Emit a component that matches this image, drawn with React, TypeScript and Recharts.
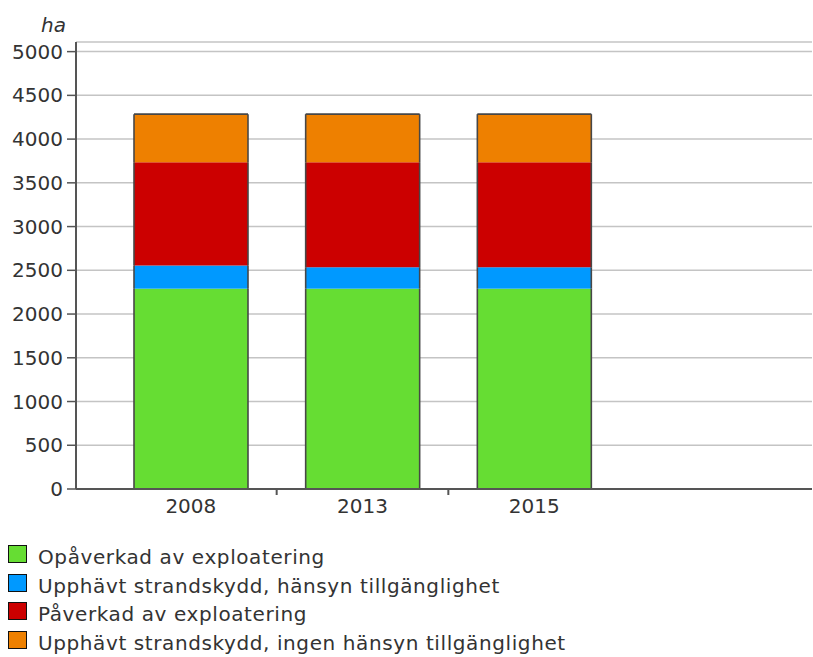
import { BarChart, Bar, XAxis, YAxis, CartesianGrid, Label } from 'recharts'

const years = ['2008', '2013', '2015']
const opaverkad = [2290, 2290, 2290]
const upphavtHansyn = [265, 245, 245]
const paverkad = [1180, 1200, 1200]
const upphavtIngen = [550, 550, 550]
const yTicks = [0, 500, 1000, 1500, 2000, 2500, 3000, 3500, 4000, 4500, 5000]

const series = [
  { key: 'opaverkad', name: 'Opåverkad av exploatering', color: '#66dd33' },
  { key: 'upphavtHansyn', name: 'Upphävt strandskydd, hänsyn tillgänglighet', color: '#0099ff' },
  { key: 'paverkad', name: 'Påverkad av exploatering', color: '#cc0000' },
  { key: 'upphavtIngen', name: 'Upphävt strandskydd, ingen hänsyn tillgänglighet', color: '#ee8000' },
]

const data = years.map((year, i) => ({
  year,
  opaverkad: opaverkad[i],
  upphavtHansyn: upphavtHansyn[i],
  paverkad: paverkad[i],
  upphavtIngen: upphavtIngen[i],
}))

const W = 813
const CHART_H = 530
const MARGIN = { top: 42, right: 1, left: 8, bottom: 11 }
const Y_AXIS_W = 68
const PAD_LEFT = 29
const PAD_RIGHT = 192
const PLOT_W = W - MARGIN.left - MARGIN.right - Y_AXIS_W
const BAND = (PLOT_W - PAD_LEFT - PAD_RIGHT) / years.length

const FONT = '"DejaVu Sans", Verdana, sans-serif'
const TEXT = '#333333'
const OUTLINE = '#474747'

// each segment draws its own sides; first/last also close the stack outline
function segmentShape(bottom: boolean, top: boolean) {
  return (props: any) => {
    const { x, y, width, height, fill } = props
    const s = { stroke: OUTLINE, strokeWidth: 1.6 }
    return (
      <g>
        <rect x={x} y={y} width={width} height={height} fill={fill} />
        <line x1={x} y1={y} x2={x} y2={y + height} {...s} />
        <line x1={x + width} y1={y} x2={x + width} y2={y + height} {...s} />
        {top && <line x1={x} y1={y} x2={x + width} y2={y} {...s} />}
        {bottom && <line x1={x} y1={y + height} x2={x + width} y2={y + height} {...s} />}
      </g>
    )
  }
}

function YearTick(props: any) {
  const { x, y, payload, index } = props
  const axisY = y - 8
  return (
    <g>
      <text x={x} y={y + 2} dy="0.71em" textAnchor="middle" fill={TEXT} fontSize={20} fontFamily={FONT}>
        {payload.value}
      </text>
      {index < years.length - 1 && (
        <line x1={x + BAND / 2} y1={axisY} x2={x + BAND / 2} y2={axisY + 6} stroke="#555" strokeWidth={2} />
      )}
    </g>
  )
}

export default function App() {
  return (
    <div style={{ position: 'absolute', left: 0, top: 0, width: W, height: 657, background: '#fff' }}>
      <BarChart width={W} height={CHART_H} data={data} margin={MARGIN}>
        <CartesianGrid vertical={false} stroke="#c4c4c4" strokeWidth={1.5} />
        <XAxis
          dataKey="year"
          padding={{ left: PAD_LEFT, right: PAD_RIGHT }}
          axisLine={{ stroke: '#555', strokeWidth: 2 }}
          tickLine={false}
          tick={<YearTick />}
          interval={0}
          height={30}
        />
        <YAxis
          width={Y_AXIS_W}
          domain={[0, 5110]}
          ticks={yTicks}
          allowDataOverflow
          axisLine={{ stroke: '#555', strokeWidth: 2 }}
          tickLine={{ stroke: '#555', strokeWidth: 1.5 }}
          tickSize={9}
          tickMargin={4}
          tick={{ fill: TEXT, fontSize: 20, fontFamily: FONT }}
        >
          <Label
            content={(p: any) => {
              const vb = p.viewBox
              return (
                <text x={vb.x + vb.width - 10} y={vb.y - 10} textAnchor="end" fill={TEXT} fontSize={20} fontStyle="italic" fontFamily={FONT}>
                  ha
                </text>
              )
            }}
          />
        </YAxis>
        {series.map((s, i) => (
          <Bar
            key={s.key}
            dataKey={s.key}
            name={s.name}
            stackId="a"
            fill={s.color}
            barSize={114}
            isAnimationActive={false}
            shape={segmentShape(i === 0, i === series.length - 1)}
          />
        ))}
      </BarChart>
      <div style={{ position: 'absolute', left: 0, top: 543, fontFamily: FONT, fontSize: 20, letterSpacing: 0.6, color: TEXT }}>
        {series.map((s) => (
          <div key={s.key} style={{ position: 'relative', height: 28.7, width: 700 }}>
            <span
              style={{
                position: 'absolute',
                left: 8,
                top: 2,
                width: 19,
                height: 18,
                boxSizing: 'border-box',
                background: s.color,
                border: '1.5px solid #111',
              }}
            />
            <span style={{ position: 'absolute', left: 38, top: 0, lineHeight: '28.7px', whiteSpace: 'nowrap' }}>
              {s.name}
            </span>
          </div>
        ))}
      </div>
    </div>
  )
}
